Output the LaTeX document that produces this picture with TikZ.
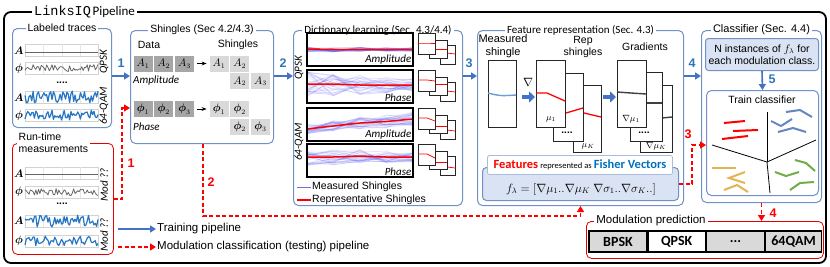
\documentclass[tikz,border=0pt]{standalone}
\usepackage{fontspec}
\usepackage{amsmath}
\setmainfont{Liberation Sans}
\newfontfamily\calibrifont{Carlito}
\newfontfamily\linksmono{Liberation Mono}
\usetikzlibrary{arrows.meta,positioning}

\definecolor{boxblue}{RGB}{114,144,196}
\definecolor{arrowblue}{RGB}{68,114,196}
\definecolor{numblue}{RGB}{46,117,182}
\definecolor{traceblue}{RGB}{38,118,196}
\definecolor{lightfill}{RGB}{218,227,243}
\definecolor{cellgray}{RGB}{166,166,166}
\definecolor{lightcell}{RGB}{217,217,217}
\definecolor{featblue}{RGB}{0,112,192}
\definecolor{yellowish}{RGB}{228,180,80}
\definecolor{greenish}{RGB}{112,173,71}
\definecolor{strokeblue}{RGB}{100,135,195}
\definecolor{shingleblue}{RGB}{70,70,235}

% cadre d'une trace
\newcommand{\sigbox}[2]{%
  \draw[gray!35, line width=0.4pt] (#1,#2) rectangle ++(73,12);
  \foreach \g in {18,37,55} \draw[gray!20, line width=0.3pt] (#1+\g,#2) -- ++(0,12);
}
% trace bruitee
\newcommand{\sigline}[4]{%
  \draw[#4, line join=round] plot[domain=0:73, samples=55] ({#1+\x},{#2+#3*rand});
}
% panneau du dictionnaire
\newcommand{\dictpanel}[9]{%
  \begin{scope}
    \clip (307,#1) rectangle (413,#1+33);
    \foreach \k in {1,...,30}
      \draw[shingleblue, opacity=0.14, line width=0.8pt]
        (307,{#1+#2+#7*rand}) -- (333,{#1+#3+(0.75*#7+0.25*#8)*rand}) -- (360,{#1+#4+(0.5*#7+0.5*#8)*rand})
        -- (386,{#1+#5+(0.25*#7+0.75*#8)*rand}) -- (413,{#1+#6+#8*rand});
    \draw[red, line width=1.5pt] (307,#1+#2) -- (333,#1+#3) -- (360,#1+#4) -- (386,#1+#5) -- (413,#1+#6);
  \end{scope}
  \draw[line width=1.1pt] (307,#1) rectangle (413,#1+33);
  \node[anchor=south east, font=\calibrifont\itshape\fontsize{11}{12}\selectfont, inner sep=1.5pt] (lbl#1) at (413,#1+33) {#9};
}
% petits shingles representatifs
\newcommand{\minibox}[5]{%
  \filldraw[fill=white, draw=black!85, line width=1pt] (440,#1+12) rectangle (455,#1+31);
  \draw[red, line width=0.7pt] (447,#1+#5) -- (455,#1+#5+1);
  \filldraw[fill=white, draw=black!85, line width=1pt] (429,#1+7) rectangle (447,#1+25);
  \draw[red, line width=0.7pt] (435,#1+#4) -- (447,#1+#4);
  \filldraw[fill=white, draw=black!85, line width=1pt] (418,#1) rectangle (435,#1+21);
  \draw[red, line width=0.7pt] (418,#1+#2) -- (427,#1+#2) -- (435,#1+#3);
}

\begin{document}
\begin{tikzpicture}[x=1pt,y=-1pt,font=\fontsize{10.5}{12.5}\selectfont]
\tikzstyle{bluebox} = [draw=boxblue, line width=1pt, rounded corners=5pt, anchor=north west, inner sep=0pt]
\tikzstyle{redbox} = [draw=red!90!black, line width=0.8pt, rounded corners=5pt, anchor=north west, inner sep=0pt]
\tikzstyle{boxtitle} = [fill=white, inner sep=2pt]
\tikzstyle{bluearrow} = [draw=arrowblue, line width=1.6pt, -{Triangle[length=6pt,width=7pt]}]
\tikzstyle{redarrow} = [draw=red, line width=1.3pt, dash pattern=on 4pt off 2.5pt, -{Triangle[length=6pt,width=7pt]}]
\tikzstyle{fatarrow} = [draw=arrowblue, line width=4pt, -{Triangle[length=6pt,width=11pt]}]
\tikzstyle{bnum} = [text=numblue, font=\fontsize{12.5}{12}\selectfont\bfseries]
\tikzstyle{rnum} = [text=red, font=\fontsize{12.5}{12}\selectfont\bfseries]
\tikzstyle{darkcell} = [fill=cellgray, draw=white, line width=0.7pt, minimum width=20pt, minimum height=17pt, inner sep=0pt]
\tikzstyle{lightcell} = [fill=lightcell, draw=white, line width=0.7pt, minimum width=20pt, minimum height=17pt, inner sep=0pt]
\tikzstyle{fbox} = [draw=black!85, fill=white, line width=1.2pt, anchor=north west, inner sep=0pt]
\tikzstyle{predcell} = [draw=black, line width=1.2pt, minimum height=21pt, inner sep=0pt, font=\calibrifont\fontsize{14}{14}\selectfont\bfseries]
\tikzstyle{rotlabel} = [rotate=90, font=\calibrifont\itshape\fontsize{11}{12}\selectfont]
\useasboundingbox (0,0) rectangle (830,266);
\pgfmathsetseed{4242}

%cadre general
\draw[line width=1.8pt, rounded corners=7pt] (4,12) rectangle (826,263);
\node[fill=white, anchor=west, inner sep=2pt] (ttl) at (32,12) {{\linksmono\fontsize{13.5}{14}\selectfont LinksIQ}\,{\calibrifont\fontsize{13}{14}\selectfont Pipeline}};

%niveaux des fleches
\coordinate (lvl) at (0,76);
\coordinate (fa) at (0,97);

%traces etiquetees
\node[bluebox, minimum width=99pt, minimum height=99pt] (labeled) at (12,28) {};
\node[boxtitle] (tlab) at (labeled.north) {Labeled traces};
\sigbox{25}{44} \draw[gray!80!black, line width=1pt] (25,52) -- (98,52);
\sigbox{25}{62} \sigline{25}{68}{3.5}{gray!80!black, line width=0.8pt}
\sigbox{25}{91} \sigline{25}{97}{6}{traceblue, line width=1.2pt}
\sigbox{25}{109} \sigline{25}{115}{5}{traceblue, line width=1.2pt}
\node (la1) at (19,51) {$\boldsymbol{A}$};
\node (lp1) at (19,69) {$\boldsymbol{\phi}$};
\node (la2) at (19,98) {$\boldsymbol{A}$};
\node (lp2) at (19,116) {$\boldsymbol{\phi}$};
\node[font=\bfseries] (ldots) at (62,83) {....};
\node[rotlabel] (lq) at (104,62) {QPSK};
\node[rotlabel] (lqam) at (104,106) {64-QAM};

%mesures en ligne
\node[redbox, minimum width=101pt, minimum height=111pt] (runtime) at (12,143) {};
\node[boxtitle, anchor=north west, align=left, inner sep=1.5pt] (trun) at (17,131) {Run-time\\measurements};
\sigbox{25}{167} \draw[gray!80!black, line width=1pt] (25,174) -- (98,174);
\sigbox{25}{186} \sigline{25}{192}{3.5}{gray!80!black, line width=0.8pt}
\sigbox{25}{215} \sigline{25}{221}{6}{traceblue, line width=1.2pt}
\sigbox{25}{235} \sigline{25}{241}{5}{traceblue, line width=1.2pt}
\node (ra1) at (19,174) {$\boldsymbol{A}$};
\node (rp1) at (19,192) {$\boldsymbol{\phi}$};
\node (ra2) at (19,221) {$\boldsymbol{A}$};
\node (rp2) at (19,241) {$\boldsymbol{\phi}$};
\node[font=\bfseries] (rdots) at (62,204) {....};
\node[rotlabel] (rm1) at (104,185) {Mod ??};
\node[rotlabel] (rm2) at (104,235) {Mod ??};

%legende
\node[anchor=west, inner sep=1pt, font=\fontsize{11.5}{13}\selectfont] (lgtrain) at (156,229) {Training pipeline};
\node[anchor=west, inner sep=1pt, font=\fontsize{11.5}{13}\selectfont] (lgtest) at (156,247) {Modulation classification (testing) pipeline};
\coordinate (lg1) at (118,229);
\coordinate (lg2) at (118,247);
\draw[bluearrow] (lg1) -- (lgtrain.west);
\draw[redarrow] (lg2) -- (lgtest.west);

%shingles
\node[bluebox, minimum width=143pt, minimum height=113pt] (shingles) at (130,30) {};
\node[boxtitle] (tsh) at (shingles.north) {Shingles (Sec 4.2/4.3)};
\node (hdata) at (149,45) {Data};
\node (hshing) at (238,45) {Shingles};
\node[darkcell] (a1) at (143,63.5) {$A_1$};
\node[darkcell, right=0pt of a1] (a2) {$A_2$};
\node[darkcell, right=0pt of a2] (a3) {$A_3$};
\node[lightcell] (sa1) at (219,63.5) {$A_1$};
\node[lightcell, right=0pt of sa1] (sa2) {$A_2$};
\node[lightcell, below=0pt of sa2] (sb2) {$A_2$};
\node[lightcell, right=0pt of sb2] (sb3) {$A_3$};
\draw[-{Stealth[length=5pt]}, line width=0.7pt, shorten <=2pt, shorten >=2pt] (a3) -- (sa1);
\node[anchor=west, font=\calibrifont\itshape\fontsize{11}{12}\selectfont, inner sep=0pt] (tampl) at (133,81) {Amplitude};
\node[darkcell] (p1) at (143,109) {$\boldsymbol{\phi}_1$};
\node[darkcell, right=0pt of p1] (p2) {$\boldsymbol{\phi}_2$};
\node[darkcell, right=0pt of p2] (p3) {$\boldsymbol{\phi}_3$};
\node[lightcell] (sp1) at (219,109) {$\boldsymbol{\phi}_1$};
\node[lightcell, right=0pt of sp1] (sp2) {$\boldsymbol{\phi}_2$};
\node[lightcell, below=0pt of sp2] (sq2) {$\boldsymbol{\phi}_2$};
\node[lightcell, right=0pt of sq2] (sq3) {$\boldsymbol{\phi}_3$};
\draw[-{Stealth[length=5pt]}, line width=0.7pt, shorten <=2pt, shorten >=2pt] (p3) -- (sp1);
\node[anchor=west, font=\calibrifont\itshape\fontsize{11}{12}\selectfont, inner sep=0pt] (tphase) at (133,127) {Phase};

%dictionnaire
\node[bluebox, minimum width=169pt, minimum height=175pt] (dict) at (293,30) {};
\node[boxtitle, font=\calibrifont\fontsize{11}{12}\selectfont] (tdict) at (dict.north) {Dictionary learning (Sec. 4.3/4.4)};
\dictpanel{33}{16}{16.5}{16.5}{16.5}{16.5}{2.5}{2}{Amplitude}
\dictpanel{70}{14}{14}{15}{15}{15}{14}{6}{Phase}
\dictpanel{108}{21}{18}{15}{13.5}{11}{5}{7}{Amplitude}
\dictpanel{144}{13}{13}{12}{13}{13}{9}{5}{Phase}
\minibox{33}{10}{10}{16}{20}
\minibox{70}{10}{11}{14}{21}
\minibox{108}{10}{13}{18}{22}
\minibox{144}{10}{14}{18}{23}
\node[rotlabel] (dq) at (299,68) {QPSK};
\node[rotlabel] (dqam) at (299,142) {64-QAM};
\draw[shingleblue!80, line width=1pt] (297,187) -- (311,187);
\node[anchor=west, inner sep=1pt] (legm) at (311,187) {Measured Shingles};
\draw[red, line width=2.4pt] (297,200) -- (311,200);
\node[anchor=west, inner sep=1pt] (legr) at (311,200) {Representative Shingles};

%representation des features
\node[bluebox, minimum width=206pt, minimum height=175pt] (feat) at (477,30) {};
\node[boxtitle, font=\calibrifont\fontsize{11}{12}\selectfont] (tfeat) at (feat.north) {Feature representation (Sec. 4.3)};
\node[align=center, inner sep=0pt, font=\fontsize{11}{13}\selectfont] (tmeas) at (503,46) {Measured\\shingle};
\node[align=center, inner sep=0pt] (trep) at (583,47) {Rep\\shingles};
\node (tgrad) at (645,47) {Gradients};
\node[fbox, minimum width=28pt, minimum height=67pt] (meas) at (488,60) {};
\draw[traceblue!70, line width=1.4pt] (488,93) .. controls (500,96) .. (516,95);
\node[font=\fontsize{12}{12}\selectfont] (nab) at (528,82) {$\nabla$};
%shingles representatifs
\node[fbox, minimum width=28pt, minimum height=67pt] (mu3) at (573,85) {};
\draw[red, line width=1.3pt] (584,113) -- (601,117);
\node[fbox, minimum width=30pt, minimum height=68pt] (mu2) at (553,73) {};
\draw[red, line width=1.3pt] (566,113) -- (583,108);
\node[fbox, minimum width=29pt, minimum height=67pt] (mu1) at (536,60) {};
\draw[red, line width=1.3pt] (536,93) -- (547,93) -- (565,101);
\node[font=\small] (mu1l) at (551,119) {$\mu_1$};
\node[font=\bfseries] (mudots) at (567,133) {....};
\node[font=\small] (muKl) at (588,146) {$\mu_K$};
%gradients
\node[fbox, minimum width=32pt, minimum height=67pt] (g3) at (640,85) {};
\draw[black!75, line width=1.4pt] (662,118) -- (672,117);
\node[fbox, minimum width=32pt, minimum height=69pt] (g2) at (630,72) {};
\draw[black!75, line width=1.4pt] (646,103) -- (662,103);
\node[fbox, minimum width=29pt, minimum height=67pt] (g1) at (617,60) {};
\draw[black!75, line width=1.4pt] (617,92) -- (631,93) -- (646,94);
\node[font=\small] (g1l) at (631,119) {$\nabla\mu_1$};
\node[font=\bfseries] (gdots) at (644,133) {....};
\node[font=\small] (gKl) at (656,146) {$\nabla\mu_K$};
\draw[fatarrow, shorten <=5pt, shorten >=1pt] (meas.east |- fa) -- (mu1.west |- fa);
\draw[fatarrow, shorten <=1pt, shorten >=1pt] (mu3.east |- fa) -- (g1.west |- fa);
%vecteurs de Fisher
\node[draw=boxblue, fill=lightfill, line width=1pt, rounded corners=4pt, minimum width=196pt, minimum height=33pt, anchor=north west] (fisher) at (482,167) {};
\node[draw=boxblue!60, fill=white, line width=0.8pt, rounded corners=2pt, minimum width=185pt, minimum height=19pt, inner sep=0pt, font=\calibrifont] (ftab) at (580,165)
  {\textcolor{red}{\bfseries\fontsize{12.5}{13}\selectfont Features} {\fontsize{8.5}{10}\selectfont represented as} \textcolor{featblue}{\bfseries\fontsize{12.5}{13}\selectfont Fisher Vectors}};
\node[font=\fontsize{11.5}{13}\selectfont] (fform) at (581,189) {$f_\lambda = [\nabla\mu_1..\nabla\mu_K\ \nabla\sigma_1..\nabla\sigma_K..]$};

%classifieur
\node[bluebox, minimum width=120pt, minimum height=172pt] (classbox) at (701,30) {};
\node[boxtitle, font=\fontsize{11}{12}\selectfont] (tclass) at (classbox.north) {Classifier (Sec. 4.4)};
\node[draw=boxblue, fill=lightfill, line width=1pt, rounded corners=3pt, minimum width=113pt, minimum height=32pt, align=center, anchor=north west, inner sep=1pt] (ninst) at (705,38)
  {N instances of $f_\lambda$ for\\each modulation class.};
\node[bluebox, fill=white, minimum width=112pt, minimum height=105pt] (trainbox) at (706,90) {};
\node (ttrain) at (762,100) {Train classifier};
\coordinate (cc) at (767,162);
\draw[line width=0.8pt] (cc) -- (712,145);
\draw[line width=0.8pt] (cc) -- (767,112);
\draw[line width=0.8pt] (cc) -- (816,140);
\draw[line width=0.8pt] (cc) -- (770,193);
%classes
\draw[red, line width=2pt] (724,123) -- (745,121);
\draw[red, line width=2pt] (733,131) -- (758,130);
\draw[red, line width=2pt] (722,139) -- (748,136);
\draw[strokeblue, line width=2pt] (771,121) -- (781,126) -- (792,119);
\draw[strokeblue, line width=2pt] (786,112) -- (800,110) -- (812,117);
\draw[strokeblue, line width=2pt] (778,132) -- (793,128) -- (806,132);
\draw[yellowish, line width=2pt] (712,168) -- (736,168);
\draw[yellowish, line width=2pt] (745,172) -- (729,178) -- (745,183);
\draw[yellowish, line width=2pt] (724,190) -- (737,185) -- (748,192);
\draw[greenish, line width=2pt] (795,160) -- (806,163) -- (815,171);
\draw[greenish, line width=2pt] (775,172) -- (786,176) -- (799,172);
\draw[greenish, line width=2pt] (790,190) -- (800,183) -- (814,182);

%prediction
\node[redbox, minimum width=237pt, minimum height=37pt] (predbox) at (586,221) {};
\node[boxtitle, font=\fontsize{11.5}{12}\selectfont] (tpred) at (651,221) {Modulation prediction};
\node[predcell, fill=lightcell, minimum width=58pt] (bpsk) at (618,241.5) {BPSK};
\node[predcell, fill=white, minimum width=57pt, right=0pt of bpsk] (qpsk) {QPSK};
\node[predcell, fill=lightcell, minimum width=58pt, right=0pt of qpsk] (pdots) {...};
\node[predcell, fill=lightcell, minimum width=56pt, right=0pt of pdots] (qam) {64QAM};

%fleches d'apprentissage
\draw[bluearrow] (labeled.east |- lvl) -- (shingles.west |- lvl);
\draw[bluearrow] (shingles.east |- lvl) -- (dict.west |- lvl);
\draw[bluearrow] (dict.east |- lvl) -- (feat.west |- lvl);
\draw[bluearrow] (feat.east |- lvl) -- (classbox.west |- lvl);
\draw[bluearrow] (ninst.south) -- (trainbox.north);
\node[bnum] (n1) at (121,63) {1};
\node[bnum] (n2) at (283,63) {2};
\node[bnum] (n3) at (469,63) {3};
\node[bnum] (n4) at (692,63) {4};
\node[bnum] (n5) at (772,79) {5};

%fleches de test
\coordinate (r1a) at (122,199);
\coordinate (r1b) at (0,108);
\coordinate (r2a) at (203,216);
\coordinate (r3a) at (692,145);
\draw[redarrow] (runtime.east |- r1a) -- (r1a) |- (shingles.west |- r1b);
\draw[redarrow] (shingles.south -| r2a) -- (r2a) -| (feat.south);
\draw[redarrow] (fisher.east) -| (r3a) -- (trainbox.west |- r3a);
\draw[redarrow] (classbox.south) -- (classbox.south |- predbox.north);
\node[rnum] (m1) at (131,163) {1};
\node[rnum] (m2) at (211,182) {2};
\node[rnum] (m3) at (688,134) {3};
\node[rnum] (m4) at (773,213) {4};
\end{tikzpicture}
\end{document}
